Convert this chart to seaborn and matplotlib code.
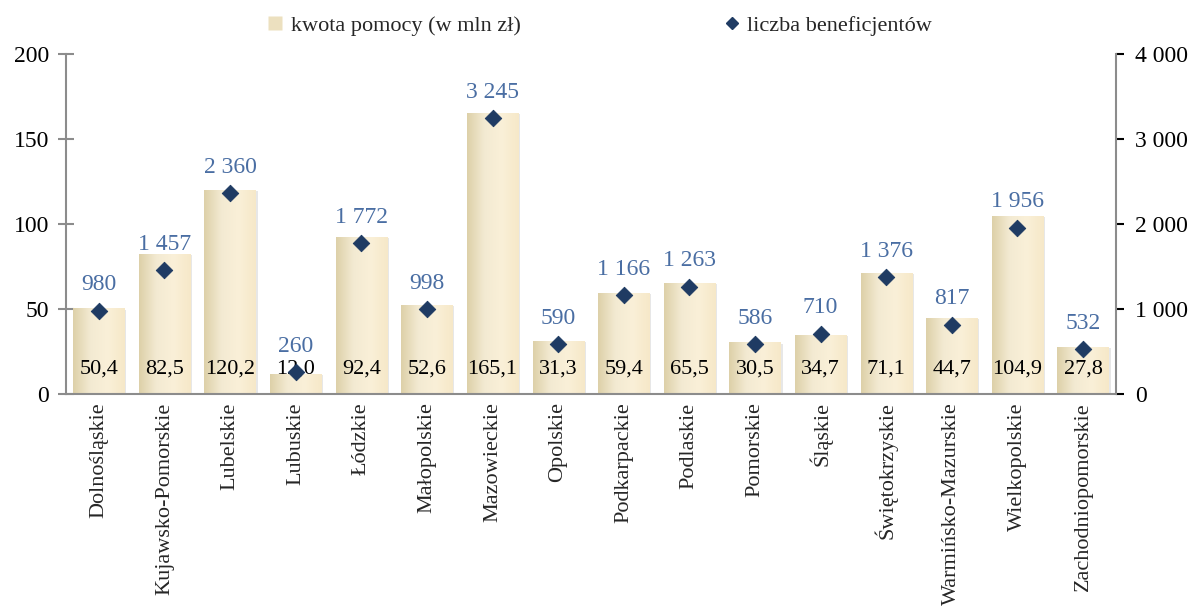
import numpy as np
import pandas as pd
import matplotlib
matplotlib.use("Agg")
import matplotlib.pyplot as plt
import seaborn as sns
from matplotlib.lines import Line2D
from matplotlib.patches import Rectangle
from matplotlib.colors import LinearSegmentedColormap
from matplotlib.ticker import FuncFormatter, FixedLocator

regions = ["Dolnośląskie", "Kujawsko-Pomorskie", "Lubelskie", "Lubuskie", "Łódzkie",
           "Małopolskie", "Mazowieckie", "Opolskie", "Podkarpackie", "Podlaskie",
           "Pomorskie", "Śląskie", "Świętokrzyskie", "Warmińsko-Mazurskie",
           "Wielkopolskie", "Zachodniopomorskie"]
kwota = [50.4, 82.5, 120.2, 12.0, 92.4, 52.6, 165.1, 31.3, 59.4, 65.5, 30.5, 34.7,
         71.1, 44.7, 104.9, 27.8]
beneficjenci = [980, 1457, 2360, 260, 1772, 998, 3245, 590, 1166, 1263, 586, 710,
                1376, 817, 1956, 532]

df = pd.DataFrame({"region": regions, "kwota": kwota, "benef": beneficjenci})

sns.set_theme(style="white")
plt.rcParams["font.family"] = ["Liberation Serif", "DejaVu Serif"]

fig = plt.figure(figsize=(11.89, 6.12), dpi=100)
ax = fig.add_axes([0.0555, 0.356, 0.883, 0.5562])

sns.barplot(data=df, x="region", y="kwota", ax=ax, color="#efe3c4", width=0.78,
            edgecolor="none", linewidth=0, zorder=2)

cmap = LinearSegmentedColormap.from_list("g", ["#ddd0a8", "#f3ead2", "#faf0d8", "#f6e8c8"])
grad = np.linspace(0, 1, 256).reshape(1, -1)
for p in ax.patches:
    x0, y0 = p.get_x(), p.get_y()
    w, h = p.get_width(), p.get_height()
    sh = Rectangle((x0 + 0.03, y0 - 1.2), w, h + 0.4, facecolor="#bdbdbd", alpha=0.35,
                   edgecolor="none", zorder=1)
    ax.add_patch(sh)
    im = ax.imshow(grad, extent=[x0, x0 + w, y0, y0 + h], aspect="auto", cmap=cmap,
                   zorder=2.5, interpolation="bicubic")
    im.set_clip_path(p)

ax.set_ylim(0, 200)
ax.set_xlim(-0.5, len(regions) - 0.5)
ax.set_yticks([0, 50, 100, 150, 200])
ax.set_xlabel("")
ax.set_ylabel("")
ax.tick_params(axis="y", labelsize=17, pad=6, colors="black")
ax.set_xticks(range(len(regions)))
ax.set_xticklabels(regions, rotation=90, fontsize=16)
ax.tick_params(axis="x", which="major", length=0, pad=6)
ax.xaxis.set_minor_locator(FixedLocator(np.arange(-0.5, len(regions), 1.0)))
ax.tick_params(axis="x", which="minor", length=8, width=1.5, color="#8c8c8c", direction="inout")
ax.tick_params(axis="y", which="major", length=12, width=1.5, color="#8c8c8c", direction="inout")

for s in ["top", "right"]:
    ax.spines[s].set_visible(False)
for s in ["left", "bottom"]:
    ax.spines[s].set_color("#8c8c8c")
    ax.spines[s].set_linewidth(1.5)

for i, v in enumerate(kwota):
    ax.annotate(f"{v:.1f}".replace(".", ","), (i, 0), xytext=(0, 11), textcoords="offset points",
                ha="center", va="bottom", fontsize=16, color="black", zorder=5)

ax2 = ax.twinx()
sns.scatterplot(data=df, x="region", y="benef", ax=ax2, marker="D", s=70,
                color="#1f3b63", edgecolor="#1f3b63", zorder=6, legend=False)
ax2.set_ylim(0, 4000)
ax2.set_yticks([0, 1000, 2000, 3000, 4000])
ax2.yaxis.set_major_formatter(FuncFormatter(lambda v, p: f"{int(v):,}".replace(",", " ")))
ax2.set_ylabel("")
ax2.tick_params(axis="y", labelsize=17, length=6, width=1.5, color="#8c8c8c",
                direction="out", pad=8, colors="black")
ax2.tick_params(axis="y", colors="black")
for s in ["top", "left", "bottom"]:
    ax2.spines[s].set_visible(False)
ax2.spines["right"].set_color("#8c8c8c")
ax2.spines["right"].set_linewidth(1.5)

for i, v in enumerate(beneficjenci):
    ax2.annotate(f"{v:,}".replace(",", " "), (i, v), xytext=(0, 11), textcoords="offset points",
                 ha="center", va="bottom", fontsize=17, color="#4a6ea3", zorder=7)

handles = [Line2D([], [], marker="s", linestyle="none", markersize=10,
                  markerfacecolor="#ece0bf", markeredgecolor="none"),
           Line2D([], [], marker="D", linestyle="none", markersize=6,
                  markerfacecolor="#1f3b63", markeredgecolor="#1f3b63")]
fig.legend(handles, ["kwota pomocy (w mln zł)", "liczba beneficjentów"],
           loc="center", bbox_to_anchor=(0.503, 0.958), ncol=2, frameon=False,
           fontsize=16, columnspacing=9, handletextpad=0.2, handlelength=1.0)

fig.savefig("out.png", dpi=100)
